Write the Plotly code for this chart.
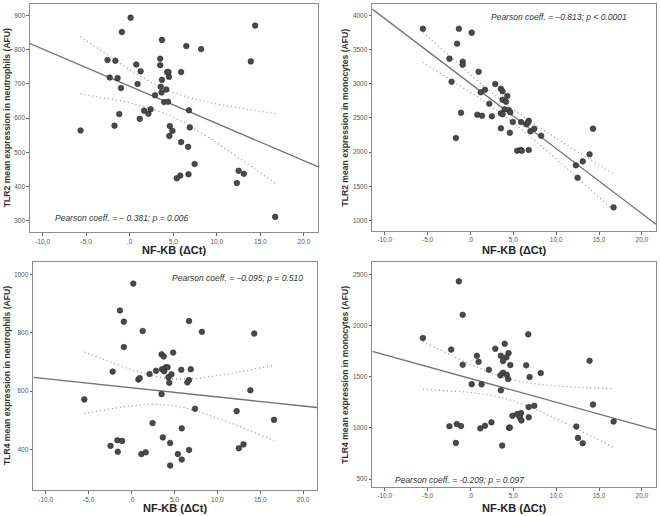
import numpy as np
import plotly.graph_objects as go

# ---------------- data ----------------
x_tlr2_neu = [-5.65, 0.1, -0.9, 3.7, 6.5, 8.2, -2.55, -1.65, 0.75, 3.5, 3.5, 1.25, 4.3, 4.45, 5.9,
              4.5, -2.3, -1.4, 3.7, 0.9, 3.55, -1.0, 4.2, 3.65, 2.9, 3.95, 4.4, 6.8, 1.65, 2.4,
              2.15, 1.15, -1.2, -1.75, 4.6, 4.9, 4.55, 6.9, 5.9, 6.7, 7.45, 5.4, 5.8, 6.75, 12.5,
              13.1, 12.3, 14.4, 13.9, 16.7]
y_tlr2_neu = [564, 894, 852, 829, 811, 802, 770, 768, 757, 774, 755, 737, 735, 735, 735,
              721, 719, 717, 712, 700, 692, 688, 684, 675, 667, 647, 648, 623, 622, 626,
              613, 598, 612, 578, 577, 563, 548, 573, 530, 516, 466, 424, 432, 436, 446,
              437, 410, 871, 766, 311]

x_tlr2_mono = [-5.55, -1.35, 0.15, -1.55, -2.45, -0.9, -0.9, 0.95, -2.2, 2.9, 3.55, 3.75, 1.7, 1.2,
               4.3, 3.75, 4.15, 2.2, -1.1, 0.8, 1.35, 2.5, 4.0, 4.45, 4.65, 3.55, 3.75, 4.95, 5.9,
               6.5, 6.8, 6.7, 7.45, 7.0, 8.25, 3.55, 4.6, -1.7, 5.45, 5.85, 6.0, 6.8, 14.3, 12.3,
               13.1, 13.9, 12.5, 16.7]
y_tlr2_mono = [3805, 3805, 3747, 3586, 3367, 3322, 3279, 3176, 3030, 2996, 2928, 2890, 2913, 2875,
               2821, 2767, 2738, 2709, 2577, 2548, 2533, 2524, 2627, 2617, 2583, 2568, 2554, 2441, 2441,
               2408, 2460, 2431, 2343, 2305, 2241, 2349, 2285, 2207, 2022, 2032, 2022, 2032, 2344, 1808,
               1866, 1969, 1627, 1194]

x_tlr4_neu = [0.2, -1.35, -0.9, 1.3, -0.9, 6.7, 8.2, 14.3, -2.2, -5.5, 0.8, 0.95, 2.1, 2.85, 3.5,
              3.75, 4.85, 3.55, 3.8, 4.0, 4.2, 4.3, 4.65, 4.4, 5.8, 6.9, 6.7, 6.5, 3.5, 7.4, 13.85,
              12.25, 16.6, 2.45, 5.85, 3.65, 4.5, -1.65, -1.1, -2.45, -1.6, 1.15, 1.65, 5.4, 6.7,
              5.85, 4.5, 12.5, 13.05]
y_tlr4_neu = [968, 876, 838, 806, 751, 840, 803, 797, 667, 572, 640, 645, 659, 670, 726,
              719, 732, 675, 668, 682, 682, 648, 658, 629, 673, 675, 638, 630, 590, 540, 603,
              532, 502, 491, 473, 442, 423, 432, 430, 413, 393, 385, 391, 385, 399,
              366, 346, 405, 418]

x_tlr4_mono = [-1.35, -0.9, -5.55, -2.25, 0.75, 0.95, -0.9, 2.15, 0.15, 1.3, 2.9, 4.0, 3.55, 4.45,
               4.2, 3.8, 4.65, 6.5, 6.75, 8.2, 6.9, 3.8, 3.5, 4.25, 4.4, 3.55, 13.9, 14.3, 16.7,
               7.45, 6.8, 6.8, 4.9, 5.45, 5.9, 5.75, 5.95, 4.5, 4.6, 2.45, 1.7, 1.15, -2.45, -1.6,
               -1.1, -1.7, 3.7, 12.35, 12.55, 13.1]
y_tlr4_mono = [2432, 2105, 1878, 1765, 1705, 1646, 1617, 1568, 1427, 1425, 1773, 1822, 1705, 1731,
               1689, 1653, 1614, 1611, 1914, 1536, 1497, 1539, 1513, 1519, 1477, 1367, 1655, 1228, 1062,
               1216, 1203, 1103, 1118, 1135, 1145, 1103, 1073, 1001, 1003, 1054, 1021, 995, 1016, 1037,
               1018, 853, 827, 1013, 902, 850]

y_titles = ["TLR2 mean expression in neutrophils (AFU)",
            "TLR2 mean expression in monocytes (AFU)",
            "TLR4 mean expression in neutrophils (AFU)",
            "TLR4 mean expression in monocytes (AFU)"]
x_title = "NF-KB (\u0394Ct)"
pearson_labels = ["Pearson coeff. = \u2013 0.381; p = 0.006",
                  "Pearson coeff. = \u20130.813; p < 0.0001",
                  "Pearson coeff. = \u20130.095; p = 0.510",
                  "Pearson coeff. = -0.209; p = 0.097"]

x_tickvals = [-10, -5, 0, 5, 10, 15, 20]
x_ticktext = ["-10,0", "-5,0", ",0", "5,0", "10,0", "15,0", "20,0"]
y_tickvals = [[300, 400, 500, 600, 700, 800, 900],
              [1000, 1500, 2000, 2500, 3000, 3500, 4000],
              [400, 600, 800, 1000],
              [500, 1000, 1500, 2000, 2500]]
y_ranges = [[266, 934], [848, 4166], [261, 1043], [422, 2618]]
x_range = [-11.45, 21.65]

# ---------------- layout geometry ----------------
W, H = 660, 516
panels = [  # left, right, top, bottom in px
    (30, 318.3, 4, 232.3),
    (372.3, 656, 4, 231),
    (33.3, 317.3, 261.7, 490.3),
    (372.3, 656, 262.3, 487),
]
ann_pos = [  # (x_px, y_px, anchor)
    (53, 218, "left"),
    (489, 17, "left"),
    (170, 278, "left"),
    (393, 480, "left"),
]
ytitle_x = [7, 345, 7, 345]
xtitle_y = [250, 250, 508, 508]

datasets = [(x_tlr2_neu, y_tlr2_neu), (x_tlr2_mono, y_tlr2_mono),
            (x_tlr4_neu, y_tlr4_neu), (x_tlr4_mono, y_tlr4_mono)]

fig = go.Figure()
annotations = []
t95 = 2.01

for i, (xs, ys) in enumerate(datasets):
    xa = "x" if i == 0 else f"x{i+1}"
    ya = "y" if i == 0 else f"y{i+1}"
    xv = np.array(xs, float)
    yv = np.array(ys, float)
    n = len(xv)
    b, a = np.polyfit(xv, yv, 1)
    resid = yv - (a + b * xv)
    s = np.sqrt(np.sum(resid ** 2) / (n - 2))
    xbar = xv.mean()
    sxx = np.sum((xv - xbar) ** 2)

    # fit line across the full axis
    xl = np.array(x_range)
    fig.add_trace(go.Scatter(x=xl, y=a + b * xl, mode="lines",
                             line=dict(color="#707070", width=1.3),
                             xaxis=xa, yaxis=ya, showlegend=False, hoverinfo="skip"))
    # 95% CI of the mean
    xc = np.linspace(xv.min(), xv.max(), 60)
    se = s * np.sqrt(1.0 / n + (xc - xbar) ** 2 / sxx)
    for sign in (1, -1):
        fig.add_trace(go.Scatter(x=xc, y=a + b * xc + sign * t95 * se, mode="lines",
                                 line=dict(color="#8a8a8a", width=1.1, dash="1px,3px"),
                                 xaxis=xa, yaxis=ya, showlegend=False, hoverinfo="skip"))
    # points
    fig.add_trace(go.Scatter(x=xv, y=yv, mode="markers",
                             marker=dict(size=5.6, color="#4a4a4a",
                                         line=dict(color="#2a2a2a", width=0.6)),
                             xaxis=xa, yaxis=ya, showlegend=False))

    l, r, t, btm = panels[i]
    dom_x = [l / W, r / W]
    dom_y = [1 - btm / H, 1 - t / H]
    axis_common = dict(showline=True, linecolor="#8c8c8c", linewidth=1.3, mirror=True,
                       showgrid=False, zeroline=False, ticks="outside", ticklen=2.5,
                       tickcolor="#666", tickwidth=1,
                       tickfont=dict(family="Liberation Sans, Arial", size=6.5, color="#555"))
    fig.layout[f"xaxis{'' if i == 0 else i+1}"] = dict(
        domain=dom_x, range=x_range, tickvals=x_tickvals, ticktext=x_ticktext,
        anchor=ya, **axis_common)
    fig.layout[f"yaxis{'' if i == 0 else i+1}"] = dict(
        domain=dom_y, range=y_ranges[i], tickvals=y_tickvals[i],
        ticktext=[str(v) for v in y_tickvals[i]], anchor=xa, **axis_common)

    ax, ay, anc = ann_pos[i]
    annotations.append(dict(x=ax / W, y=1 - ay / H, xref="paper", yref="paper",
                            text=f"<i>{pearson_labels[i]}</i>", showarrow=False,
                            xanchor=anc, yanchor="middle",
                            font=dict(family="Liberation Sans, Arial", size=8.5, color="#333")))
    annotations.append(dict(x=ytitle_x[i] / W, y=1 - ((t + btm) / 2) / H,
                            xref="paper", yref="paper", text=f"<b>{y_titles[i]}</b>",
                            textangle=-90, showarrow=False, xanchor="center", yanchor="middle",
                            font=dict(family="Liberation Sans, Arial", size=8.6, color="#333")))
    annotations.append(dict(x=((l + r) / 2) / W, y=1 - xtitle_y[i] / H,
                            xref="paper", yref="paper", text=f"<b>{x_title}</b>",
                            showarrow=False, xanchor="center", yanchor="middle",
                            font=dict(family="Liberation Sans, Arial", size=11, color="#222")))

fig.update_layout(width=W, height=H, margin=dict(l=0, r=0, t=0, b=0),
                  paper_bgcolor="white", plot_bgcolor="white",
                  annotations=annotations, showlegend=False)

fig.write_html("out.html", config={"displayModeBar": False},
               post_script="document.body.style.margin='0';document.body.style.padding='0';")
